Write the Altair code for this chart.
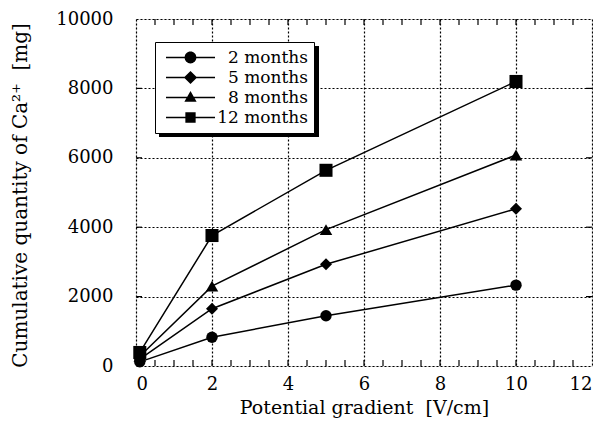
import altair as alt
import pandas as pd

# ---- data ----
gradient = [0.1, 2.0, 5.0, 10.0]
series_names = ["2 months", "5 months", "8 months", "12 months"]
vals_2m = [120, 830, 1450, 2330]
vals_5m = [200, 1650, 2930, 4530]
vals_8m = [280, 2300, 3930, 6080]
vals_12m = [390, 3760, 5640, 8200]

x_major = [0, 2, 4, 6, 8, 10, 12]
x_minor = [0.5, 1, 1.5, 2, 2.5, 3, 3.5, 4, 4.5, 5, 5.5, 6, 6.5, 7, 7.5,
           8, 8.5, 9, 9.5, 10, 10.5, 11, 11.5]
y_major = [0, 2000, 4000, 6000, 8000, 10000]

rows = []
for name, vals in zip(series_names, [vals_2m, vals_5m, vals_8m, vals_12m]):
    for g, v in zip(gradient, vals):
        rows.append({"gradient": g, "value": v, "series": name})
df = pd.DataFrame(rows)

W, H = 456, 347
FONT = "DejaVu Serif"

x_title = "Potential gradient\u00a0 [V/cm]"
y_title = "Cumulative quantity of Ca\u00b2\u207a\u00a0 [mg]"


def xenc():
    return alt.X(
        "gradient:Q",
        scale=alt.Scale(domain=[0, 12], nice=False, zero=False),
        axis=alt.Axis(values=x_major, grid=True, gridDash=[2, 2], gridColor="black",
                      gridWidth=1.2, gridOpacity=1, ticks=False, domain=False,
                      labelFont=FONT, labelFontSize=18, labelColor="black", labelPadding=9,
                      format="d", title=x_title, titleFont=FONT, titleFontSize=19,
                      titleFontWeight="normal", titleColor="black", titlePadding=5),
    )


def yenc():
    return alt.Y(
        "value:Q",
        scale=alt.Scale(domain=[0, 10000], nice=False, zero=False),
        axis=alt.Axis(values=y_major, grid=True, gridDash=[2, 2], gridColor="black",
                      gridWidth=1.2, gridOpacity=1, ticks=False, domain=False,
                      labelFont=FONT, labelFontSize=18, labelColor="black", labelPadding=23,
                      format="d", title=y_title, titleFont=FONT, titleFontSize=20,
                      titleFontWeight="normal", titleColor="black", titlePadding=25,
                      titleY=176),
    )


base = alt.Chart(df)

lines = base.mark_line(color="black", strokeWidth=1.5).encode(
    x=xenc(), y=yenc(), detail="series:N"
)

points = base.mark_point(filled=True, color="black", opacity=1).encode(
    x=xenc(), y=yenc(),
    shape=alt.Shape("series:N",
                    scale=alt.Scale(domain=series_names,
                                    range=["circle", "diamond", "triangle-up", "square"]),
                    legend=None),
    size=alt.Size("series:N",
                  scale=alt.Scale(domain=series_names, range=[130, 170, 140, 130]),
                  legend=None),
)

# inward ticks
tick_x_df = pd.DataFrame({"gradient": x_minor})
tick_y_df = pd.DataFrame({"value": y_major[1:-1]})

tb = alt.Chart(tick_x_df).mark_rule(color="black", strokeWidth=1.2).encode(
    x=xenc(), y=alt.value(H - 6), y2=alt.value(H))
tt = alt.Chart(tick_x_df).mark_rule(color="black", strokeWidth=1.2).encode(
    x=xenc(), y=alt.value(0), y2=alt.value(6))
tl = alt.Chart(tick_y_df).mark_rule(color="black", strokeWidth=1.2).encode(
    y=yenc(), x=alt.value(0), x2=alt.value(6))
tr = alt.Chart(tick_y_df).mark_rule(color="black", strokeWidth=1.2).encode(
    y=yenc(), x=alt.value(W - 6), x2=alt.value(W))

# legend shadow
shadow = alt.Chart(pd.DataFrame({"k": [0]})).mark_rect(color="black").encode(
    x=alt.value(23), x2=alt.value(183), y=alt.value(27), y2=alt.value(118))

# legend layer with line+marker symbols (thin bar + marker, same winding)
legend_paths = [
    "M-1,-0.032H1V0.032H-1Z"
    "M0.24,0A0.24,0.24,0,1,1,-0.24,0A0.24,0.24,0,1,1,0.24,0Z",
    "M-1,-0.032H1V0.032H-1Z"
    "M0,-0.27L0.27,0L0,0.27L-0.27,0Z",
    "M-1,-0.032H1V0.032H-1Z"
    "M0,-0.27L0.25,0.17L-0.25,0.17Z",
    "M-1,-0.032H1V0.032H-1Z"
    "M-0.21,-0.21H0.21V0.21H-0.21Z",
]
leg = alt.Chart(pd.DataFrame({"series": series_names})).mark_point(
    filled=True, color="black", opacity=0
).encode(
    shape=alt.Shape("series:N",
                    scale=alt.Scale(domain=series_names, range=legend_paths),
                    legend=alt.Legend(title=None, orient="none", legendX=19, legendY=23,
                                      fillColor="white", strokeColor="black",
                                      padding=6, symbolSize=2400, symbolOffset=4,
                                      clipHeight=19, rowPadding=1,
                                      labelFont=FONT, labelFontSize=17, labelColor="black",
                                      labelAlign="right", labelOffset=92, labelLimit=200)),
)

chart = alt.layer(shadow, lines, points, tb, tt, tl, tr, leg).resolve_scale(
    shape="independent", size="independent"
).properties(
    width=W, height=H,
    autosize=alt.AutoSizeParams(type="none"),
    padding={"left": 128, "top": 11, "right": 1, "bottom": 60},
).configure_view(stroke="black", strokeWidth=3).configure_legend(
    strokeWidth=2, cornerRadius=0
).configure(background="white")

chart.save("out.html", embed_options={"renderer": "svg", "actions": False})
